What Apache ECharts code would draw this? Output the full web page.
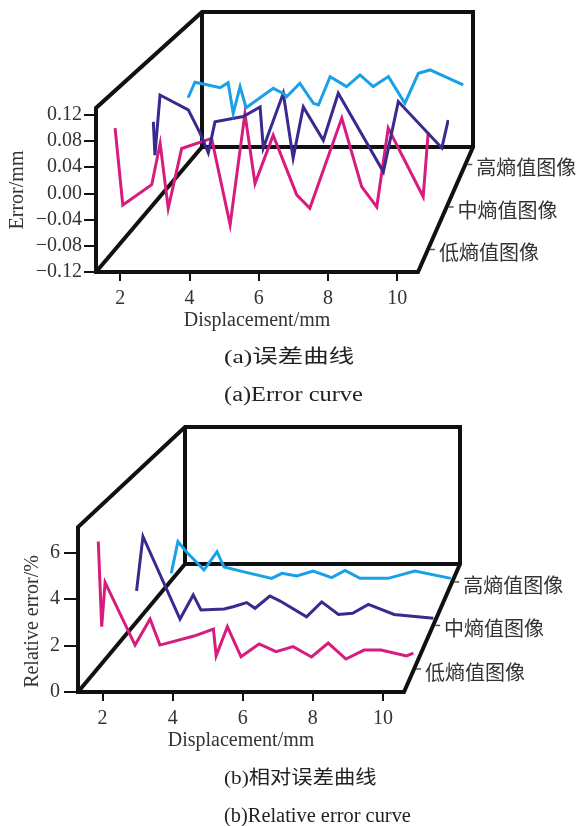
<!DOCTYPE html>
<html>
<head>
<meta charset="utf-8">
<script src="https://cdn.jsdelivr.net/npm/echarts@6/dist/echarts.min.js"></script>
<style>html,body{margin:0;padding:0;background:#fff}#c{width:579px;height:826px}</style>
</head>
<body>
<div id="c"></div>
<script>
// ---------- data ----------
const seriesNames = ['低熵值图像', '中熵值图像', '高熵值图像'];
const xTicks = [2, 4, 6, 8, 10];
const errTicks = [-0.12, -0.08, -0.04, 0, 0.04, 0.08, 0.12];
const relTicks = [0, 2, 4, 6];

// (a) error curve, mm
const errLowX  = [1.30,1.53,2.39,2.64,2.88,3.28,4.17,4.72,5.16,5.46,6.00,6.70,7.09,8.04,8.63,9.08,9.42,10.46,10.61];
const errLowY  = [0.071,-0.050,-0.018,0.047,-0.055,0.039,0.055,-0.081,0.094,-0.016,0.060,-0.034,-0.055,0.087,-0.021,-0.053,0.071,-0.037,0.065];
const errMidX  = [1.37,1.42,1.58,2.47,2.84,3.10,3.31,4.20,4.73,4.83,5.46,5.77,6.09,6.72,7.19,8.61,9.08,10.45,10.65];
const errMidY  = [0.023,-0.033,0.068,0.043,0.004,-0.029,0.023,0.032,0.048,-0.021,0.071,-0.038,0.048,-0.008,0.071,-0.061,0.057,-0.021,0.026];
const errHighX = [1.33,1.56,2.00,2.40,2.67,2.84,3.07,3.27,4.18,4.54,4.63,5.07,5.52,5.69,6.08,6.63,7.08,7.52,8.03,8.58,9.03,9.42,10.53];
const errHighY = [0.000,0.028,0.023,0.018,0.027,-0.028,0.020,-0.018,0.017,0.007,0.002,0.026,-0.010,-0.013,0.038,0.020,0.041,0.020,0.038,-0.010,0.044,0.050,0.023];

// (b) relative error curve, %
const relLowX  = [1.33,1.43,1.53,2.41,2.85,3.14,4.14,4.71,4.79,5.12,5.52,6.05,6.55,7.05,7.59,8.08,8.60,9.13,9.63,10.38,10.58];
const relLowY  = [5.66,1.88,3.84,1.06,2.22,1.06,1.46,1.77,0.58,1.88,0.54,1.11,0.77,0.99,0.53,1.15,0.44,0.84,0.84,0.58,0.70];
const relMidX  = [1.39,1.59,2.74,3.15,3.39,4.11,4.39,4.81,5.07,5.53,5.85,6.67,7.14,7.66,8.10,8.59,9.39,10.61];
const relMidY  = [1.63,4.20,0.30,1.44,0.73,0.78,0.88,1.08,0.81,1.39,1.15,0.41,1.11,0.52,0.57,0.99,0.52,0.34];
const relHighX = [1.34,1.56,1.86,2.42,2.85,3.08,3.84,4.65,4.99,5.48,6.02,6.63,7.07,7.56,8.49,9.37,10.56];
const relHighY = [0.43,2.03,1.48,0.60,1.52,0.75,0.47,0.18,0.43,0.30,0.55,0.22,0.58,0.18,0.18,0.55,0.18];

// ---------- layout / style ----------
const seriesColors = ['#d81c7e', '#3a2a8e', '#1aa0e6'];
const seriesDepths = [0.18, 0.52, 0.86];   // position along the depth axis (0 = front, 1 = back)
const SERIF = "'Liberation Serif', 'Times New Roman', serif";
const CJK = "'Noto Sans CJK SC', sans-serif";
const MIX = "'Liberation Serif', 'Noto Sans CJK SC', serif";

const panels = [
  {
    F: {l: 96, r: 418, t: 108, b: 272}, B: {l: 202, r: 473, t: 12, b: 147},
    xMin: 1.3, xMax: 10.6, yMin: -0.12, yMax: 0.13, yTicks: errTicks,
    yName: 'Error/mm', yNameGap: 68, yNamePad: [0, 0, 0, 0], yLabelMargin: 14, yTickLen: 12,
    fmt: v => (v < -1e-9 ? '\u2212' : '') + Math.abs(v).toFixed(2),
    data: [[errLowX, errLowY], [errMidX, errMidY], [errHighX, errHighY]],
    captions: [['(a)误差曲线', 358, 19, 1.34], ['(a)Error curve', 396, 20, 1.22]]
  },
  {
    F: {l: 78, r: 404, t: 527, b: 692}, B: {l: 185, r: 460, t: 427, b: 564},
    xMin: 1.3, xMax: 10.6, yMin: 0, yMax: 7.1, yTicks: relTicks,
    yName: 'Relative error/%', yNameGap: 35, yNamePad: [0, 24, 0, 0], yLabelMargin: 18, yTickLen: 14,
    fmt: v => String(Math.round(v)),
    data: [[relLowX, relLowY], [relMidX, relMidY], [relHighX, relHighY]],
    captions: [['(b)相对误差曲线', 779, 19, 1.12], ['(b)Relative error curve', 817, 20, 1.02]]
  }
];

function sliceAt(p, d) {
  const F = p.F, B = p.B;
  return {
    l: F.l + (B.l - F.l) * d, r: F.r + (B.r - F.r) * d,
    t: F.t + (B.t - F.t) * d, b: F.b + (B.b - F.b) * d
  };
}

const grid = [], xAxis = [], yAxis = [], series = [], graphic = [];
const boxLine = {stroke: '#111', lineWidth: 4, lineJoin: 'miter', fill: 'none'};

panels.forEach((p, pi) => {
  const depths = [0].concat(seriesDepths);
  depths.forEach((d, k) => {
    const s = sliceAt(p, d);
    grid.push({left: s.l, top: s.t, width: s.r - s.l, height: s.b - s.t,
               containLabel: false, outerBoundsMode: 'none', show: false});
    const gi = grid.length - 1;
    const front = k === 0;
    xAxis.push({
      type: 'value', gridIndex: gi, min: p.xMin, max: p.xMax, show: front, position: 'bottom',
      axisLine: {show: false, onZero: false},
      splitLine: {show: false},
      axisTick: {show: front, customValues: xTicks, length: 9, lineStyle: {color: '#111', width: 2}},
      axisLabel: {show: front, customValues: xTicks, margin: 17, fontSize: 20, fontFamily: SERIF, color: '#333'},
      name: front ? 'Displacement/mm' : '', nameLocation: 'middle', nameGap: 39, nameMoveOverlap: false,
      nameTextStyle: {fontSize: 20, fontFamily: SERIF, color: '#333'}
    });
    yAxis.push({
      type: 'value', gridIndex: gi, min: p.yMin, max: p.yMax, show: front, position: 'left',
      axisLine: {show: false, onZero: false},
      splitLine: {show: false},
      axisTick: {show: front, customValues: p.yTicks, length: p.yTickLen, lineStyle: {color: '#111', width: 2}},
      axisLabel: {show: front, customValues: p.yTicks, margin: p.yLabelMargin, fontSize: 20,
                  fontFamily: SERIF, color: '#333', formatter: p.fmt},
      name: front ? p.yName : '', nameLocation: 'middle', nameGap: p.yNameGap, nameMoveOverlap: false,
      nameTextStyle: {fontSize: 20, fontFamily: SERIF, color: '#333', padding: p.yNamePad}
    });
    if (!front) {
      const i = k - 1;
      const xs = p.data[i][0], ys = p.data[i][1];
      series.push({
        type: 'line', name: seriesNames[i], xAxisIndex: gi, yAxisIndex: gi,
        data: xs.map((x, j) => [x, ys[j]]),
        showSymbol: false, symbol: 'none', clip: false, silent: true, z: 5,
        lineStyle: {color: seriesColors[i], width: 3, join: 'miter'},
        animation: false
      });
    }
  });

  // box wireframe
  const F = p.F, B = p.B;
  graphic.push({type: 'polygon', silent: true, z: 1,
    shape: {points: [[F.r, F.b], [F.l, F.b], [F.l, F.t], [B.l, B.t], [B.r, B.t], [B.r, B.b]]},
    style: boxLine});
  graphic.push({type: 'polyline', silent: true, z: 1,
    shape: {points: [[B.l, B.t], [B.l, B.b], [B.r, B.b]]}, style: boxLine});
  graphic.push({type: 'line', silent: true, z: 1,
    shape: {x1: F.l, y1: F.b, x2: B.l, y2: B.b}, style: boxLine});

  // depth-axis labels
  seriesDepths.forEach((d, i) => {
    const x = F.r + (B.r - F.r) * d, y = F.b + (B.b - F.b) * d;
    graphic.push({type: 'line', silent: true, z: 2,
      shape: {x1: x + 2, y1: y, x2: x + 7, y2: y}, style: {stroke: '#555', lineWidth: 1.5}});
    graphic.push({type: 'text', silent: true, z: 2, x: x + 11, y: y + 3,
      style: {text: seriesNames[i], fontSize: 20, fontFamily: CJK, fill: '#333',
              textAlign: 'left', textVerticalAlign: 'middle'}});
  });

  // captions
  p.captions.forEach(([t, y, fs, sx]) => {
    graphic.push({type: 'text', silent: true, z: 2, x: 224, y: y, scaleX: sx,
      style: {text: t, fontSize: fs, fontFamily: MIX, fill: '#222',
              textAlign: 'left', textVerticalAlign: 'middle'}});
  });
});

const chart = echarts.init(document.getElementById('c'), null, {renderer: 'canvas'});
chart.setOption({
  backgroundColor: '#fff',
  animation: false,
  grid, xAxis, yAxis, series, graphic
});
</script>
</body>
</html>
